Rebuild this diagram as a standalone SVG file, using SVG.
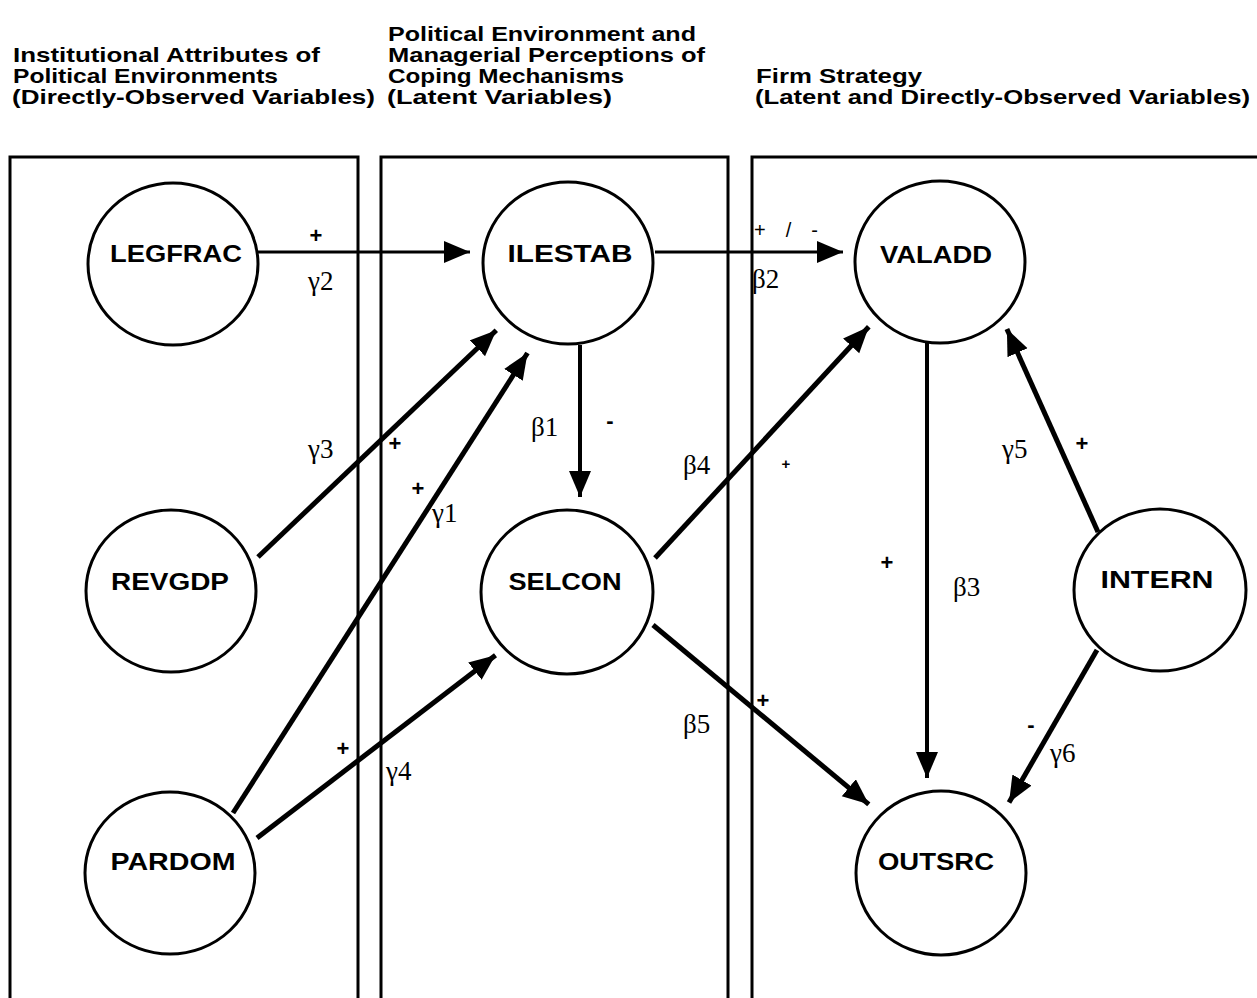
<svg xmlns="http://www.w3.org/2000/svg" width="1257" height="998" viewBox="0 0 1257 998">
<style>
.hdr{font-family:"Liberation Sans",Arial,sans-serif;font-weight:bold;font-size:21px;fill:#000}
.panel{fill:none;stroke:#000;stroke-width:3}
.node ellipse{fill:#fff;stroke:#000;stroke-width:3}
.nl{font-family:"Liberation Sans",Arial,sans-serif;font-weight:bold;font-size:24px;fill:#000;text-anchor:middle}
.gk{font-family:"Liberation Serif","Times New Roman",serif;font-size:27px;fill:#000}
.sg{font-family:"Liberation Sans",Arial,sans-serif;font-weight:bold;font-size:22px;fill:#000;text-anchor:middle}
.sgs{font-family:"Liberation Sans",Arial,sans-serif;font-weight:bold;font-size:15px;fill:#000;text-anchor:middle}
.pm{font-family:"Liberation Sans",Arial,sans-serif;font-size:20px;fill:#000}
.c{fill:none;stroke:#000}
.thin{stroke-width:3}
.mid{stroke-width:4}
.thick{stroke-width:5}
</style>
<defs>
<marker id="ah" markerUnits="userSpaceOnUse" markerWidth="28" markerHeight="24" viewBox="0 0 28 24" refX="26" refY="11" orient="auto">
<path d="M0,0 L26,11 L0,22 z" fill="#000"/>
</marker>
</defs>
<rect width="1257" height="998" fill="#fff"/>
<g id="headers">
<text class="hdr" x="13" y="62" textLength="307" lengthAdjust="spacingAndGlyphs">Institutional Attributes of</text>
<text class="hdr" x="13" y="83" textLength="265" lengthAdjust="spacingAndGlyphs">Political Environments</text>
<text class="hdr" x="12" y="104" textLength="363" lengthAdjust="spacingAndGlyphs">(Directly-Observed Variables)</text>
<text class="hdr" x="388" y="41" textLength="308" lengthAdjust="spacingAndGlyphs">Political Environment and</text>
<text class="hdr" x="388" y="62" textLength="317" lengthAdjust="spacingAndGlyphs">Managerial Perceptions of</text>
<text class="hdr" x="388" y="83" textLength="236" lengthAdjust="spacingAndGlyphs">Coping Mechanisms</text>
<text class="hdr" x="387" y="104" textLength="225" lengthAdjust="spacingAndGlyphs">(Latent Variables)</text>
<text class="hdr" x="756" y="83" textLength="166" lengthAdjust="spacingAndGlyphs">Firm Strategy</text>
<text class="hdr" x="755" y="104" textLength="495" lengthAdjust="spacingAndGlyphs">(Latent and Directly-Observed Variables)</text>
</g>
<g id="panels">
<path class="panel" d="M10,998 V157 H358 V998"/>
<path class="panel" d="M381,998 V157 H728 V998"/>
<path class="panel" d="M752,998 V157 H1257"/>
</g>
<g id="connectors">
<path class="c thin" d="M258,252 H470" marker-end="url(#ah)"/>
<path class="c thin" d="M655,252 H843" marker-end="url(#ah)"/>
<path class="c mid" d="M580,345 V497" marker-end="url(#ah)"/>
<path class="c thick" d="M258,557 L496.3,330.3" marker-end="url(#ah)"/>
<path class="c thick" d="M233,813 L527.5,353" marker-end="url(#ah)"/>
<path class="c thick" d="M257,838 L495.5,655.3" marker-end="url(#ah)"/>
<path class="c thick" d="M655,558 L868.8,326.8" marker-end="url(#ah)"/>
<path class="c thick" d="M653,625 L868.8,804.3" marker-end="url(#ah)"/>
<path class="c mid" d="M927,343 V778" marker-end="url(#ah)"/>
<path class="c thick" d="M1098,532 L1006.9,329" marker-end="url(#ah)"/>
<path class="c thick" d="M1097,650 L1009,802.6" marker-end="url(#ah)"/>
</g>
<g id="edge-labels">
<text class="sg" x="316" y="243">+</text>
<text class="gk" x="308" y="290">γ2</text>
<text class="sg" x="395" y="451">+</text>
<text class="gk" x="308" y="458">γ3</text>
<text class="sg" x="418" y="496">+</text>
<text class="gk" x="432" y="522">γ1</text>
<text class="sg" x="343" y="756">+</text>
<text class="gk" x="386" y="780">γ4</text>
<text class="gk" x="531" y="436">β1</text>
<text class="sg" x="610" y="428">-</text>
<text class="pm" x="754" y="237" textLength="64" lengthAdjust="spacing">+ / -</text>
<text class="gk" x="752" y="288">β2</text>
<text class="gk" x="683" y="474">β4</text>
<text class="sgs" x="786" y="469">+</text>
<text class="gk" x="683" y="733">β5</text>
<text class="sg" x="763" y="708">+</text>
<text class="sg" x="887" y="570">+</text>
<text class="gk" x="953" y="596">β3</text>
<text class="gk" x="1002" y="458">γ5</text>
<text class="sg" x="1082" y="451">+</text>
<text class="sg" x="1031" y="732">-</text>
<text class="gk" x="1050" y="762">γ6</text>
</g>
<g id="LEGFRAC" class="node"><ellipse cx="173" cy="264" rx="85" ry="81"/><text class="nl" x="176" y="262" textLength="132" lengthAdjust="spacingAndGlyphs">LEGFRAC</text></g>
<g id="REVGDP" class="node"><ellipse cx="171" cy="591" rx="85" ry="81"/><text class="nl" x="170" y="590" textLength="118" lengthAdjust="spacingAndGlyphs">REVGDP</text></g>
<g id="PARDOM" class="node"><ellipse cx="170" cy="873" rx="85" ry="81"/><text class="nl" x="173" y="870" textLength="125" lengthAdjust="spacingAndGlyphs">PARDOM</text></g>
<g id="ILESTAB" class="node"><ellipse cx="568" cy="263" rx="85" ry="81"/><text class="nl" x="570" y="262" textLength="125" lengthAdjust="spacingAndGlyphs">ILESTAB</text></g>
<g id="SELCON" class="node"><ellipse cx="567" cy="592" rx="86" ry="82"/><text class="nl" x="565" y="590" textLength="113" lengthAdjust="spacingAndGlyphs">SELCON</text></g>
<g id="VALADD" class="node"><ellipse cx="940" cy="262" rx="85" ry="81"/><text class="nl" x="936" y="263" textLength="112" lengthAdjust="spacingAndGlyphs">VALADD</text></g>
<g id="OUTSRC" class="node"><ellipse cx="941" cy="873" rx="85" ry="82"/><text class="nl" x="936" y="870" textLength="116" lengthAdjust="spacingAndGlyphs">OUTSRC</text></g>
<g id="INTERN" class="node"><ellipse cx="1160" cy="590" rx="86" ry="81"/><text class="nl" x="1157" y="588" textLength="113" lengthAdjust="spacingAndGlyphs">INTERN</text></g>
</svg>
